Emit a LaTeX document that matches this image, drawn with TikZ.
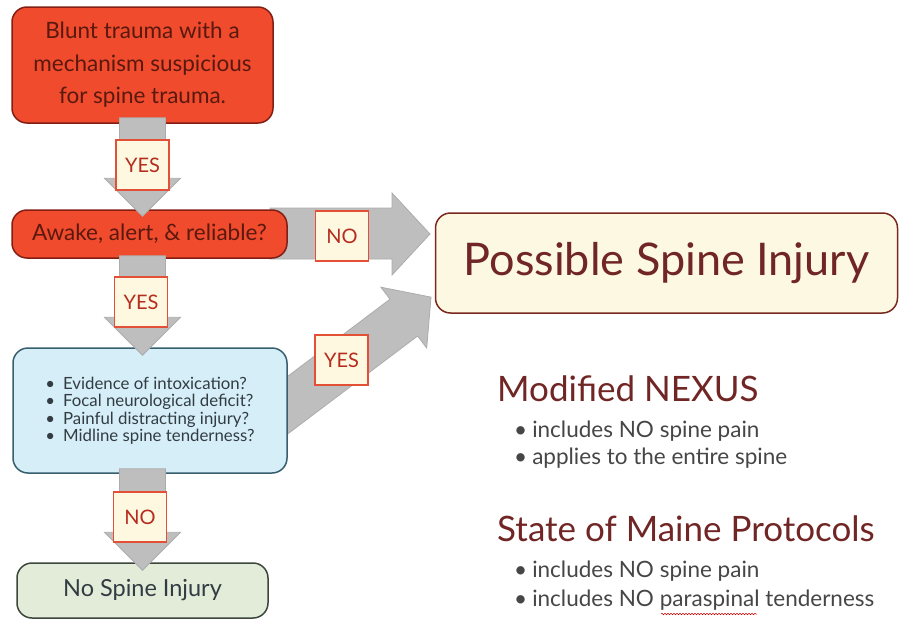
\documentclass[tikz,border=0pt]{standalone}
\usepackage{fontspec}
\setmainfont{Lato}
\usetikzlibrary{calc,decorations.pathmorphing}
\definecolor{redfill}{RGB}{240,75,45}
\definecolor{redline}{RGB}{130,30,20}
\definecolor{redtext}{RGB}{90,25,15}
\definecolor{lblfill}{RGB}{255,248,225}
\definecolor{lblline}{RGB}{228,80,55}
\definecolor{lbltext}{RGB}{180,45,30}
\definecolor{grayfill}{RGB}{190,190,190}
\definecolor{grayline}{RGB}{172,172,172}
\definecolor{bluefill}{RGB}{214,238,248}
\definecolor{blueline}{RGB}{55,95,110}
\definecolor{greenfill}{RGB}{226,236,216}
\definecolor{greenline}{RGB}{60,70,60}
\definecolor{creamfill}{RGB}{253,248,225}
\definecolor{creamline}{RGB}{120,40,30}
\definecolor{maroon}{RGB}{112,38,36}
\definecolor{bodytext}{RGB}{70,70,70}
\definecolor{slate}{RGB}{50,60,66}
\tikzset{
  box/.style={rounded corners=15pt, line width=1.5pt, inner sep=0pt, align=center},
  redbox/.style={box, fill=redfill, draw=redline, text=redtext, font=\fontsize{22.5}{32.5}\selectfont},
  bluebox/.style={box, fill=bluefill, draw=blueline, text=slate, align=left, font=\fontsize{16.8}{17.5}\selectfont},
  greenbox/.style={box, fill=greenfill, draw=greenline, text=slate, font=\fontsize{23.5}{26}\selectfont},
  creambox/.style={box, fill=creamfill, draw=creamline, text=maroon, font=\fontsize{45}{50}\selectfont},
  lbl/.style={draw=lblline, fill=lblfill, line width=1.5pt, text=lbltext, inner sep=0pt,
    minimum width=53pt, minimum height=50pt, font=\fontsize{20}{22}\selectfont},
  blockarrow/.style={fill=grayfill, draw=grayline, line width=0.8pt, line join=miter},
  heading/.style={anchor=west, text=maroon, inner sep=0pt, font=\fontsize{35}{38}\selectfont},
  bullet/.style={anchor=west, text=bodytext, inner sep=0pt, font=\fontsize{22.5}{25}\selectfont}
}
\newcommand{\vblock}[2]{%
  \draw[blockarrow] ($(#1)+(-23,0)$) -- ($(#2)+(-23,-38)$) -- ($(#2)+(-38,-38)$) -- (#2)
    -- ($(#2)+(38,-38)$) -- ($(#2)+(23,-38)$) -- ($(#1)+(23,0)$) -- cycle;}
\begin{document}
\begin{tikzpicture}[x=1pt,y=-1pt]
\useasboundingbox (0,0) rectangle (902,622);
% node positions
\coordinate (c1) at (142.5,65);
\coordinate (c2) at (149.5,234);
\coordinate (c3) at (150,410.5);
\coordinate (c4) at (142.5,590.5);
\coordinate (c5) at (666.5,263);
% diagonal YES arrow (behind the blue box)
\draw[blockarrow] (246.2,407.6) -- (390,299.2) -- (380.9,287.2) -- (431,297.1)
  -- (426.7,348) -- (417.6,336) -- (273.8,444.4) -- cycle;
% horizontal NO arrow (behind the second box)
\draw[blockarrow] (270,208) -- (392,208) -- (392,193) -- (430,234) -- (392,275) -- (392,259) -- (270,259) -- cycle;
% boxes
\node[redbox, minimum width=261pt, minimum height=116pt] (b1) at (c1)
  {Blunt trauma with a\\mechanism suspicious\\for spine trauma.};
\node[redbox, minimum width=275pt, minimum height=48pt] (b2) at (c2) {Awake, alert, \& reliable?};
\node[bluebox, minimum width=274pt, minimum height=125pt] (b3) at (c3)
  {\textbullet\hspace{8pt}Evidence of intoxication?\\
   \textbullet\hspace{8pt}Focal neurological deficit?\\
   \textbullet\hspace{8pt}Painful distracting injury?\\
   \textbullet\hspace{8pt}Midline spine tenderness?};
\node[greenbox, minimum width=251pt, minimum height=55pt] (b4) at (c4) {No Spine Injury};
\node[creambox, minimum width=462pt, minimum height=100pt] (b5) at (c5) {Possible Spine Injury};
% vertical arrows
\coordinate (a1s) at ($(b1.south)+(0,-6)$);
\coordinate (a1t) at ($(b2.north -| a1s)+(0,7)$);
\vblock{a1s}{a1t}
\coordinate (a2s) at ($(b2.south -| a1s)+(0,-3)$);
\coordinate (a2t) at ($(b3.north -| a1s)+(0,8)$);
\vblock{a2s}{a2t}
\coordinate (a3s) at ($(b3.south -| a1s)+(0,-5)$);
\coordinate (a3t) at ($(b4.north -| a1s)+(0,8)$);
\vblock{a3s}{a3t}
% labels
\node[lbl] (l1) at (142.5,165) {YES};
\node[lbl] (l2) at (141,302) {YES};
\node[lbl] (l3) at (140,517) {NO};
\node[lbl] (l4) at (342,236) {NO};
\node[lbl] (l5) at (341.5,360) {YES};
% right-hand text
\node[heading] (h1) at (497,389) {Modified NEXUS};
\node[bullet] (h1a) at (514,431) {\textbullet\hspace{5pt}includes NO spine pain};
\node[bullet] (h1b) at (514,458) {\textbullet\hspace{5pt}applies to the entire spine};
\node[heading] (h2) at (497,529) {State of Maine Protocols};
\node[bullet] (h2a) at (514,571) {\textbullet\hspace{5pt}includes NO spine pain};
\node[bullet] (h2b) at (514,600) {\textbullet\hspace{5pt}includes NO paraspinal tenderness};
\draw[red!80!black, line width=0.5pt, decorate, decoration={snake, amplitude=0.8pt, segment length=3pt}]
  (661,614) -- (757,614);
\end{tikzpicture}
\end{document}
